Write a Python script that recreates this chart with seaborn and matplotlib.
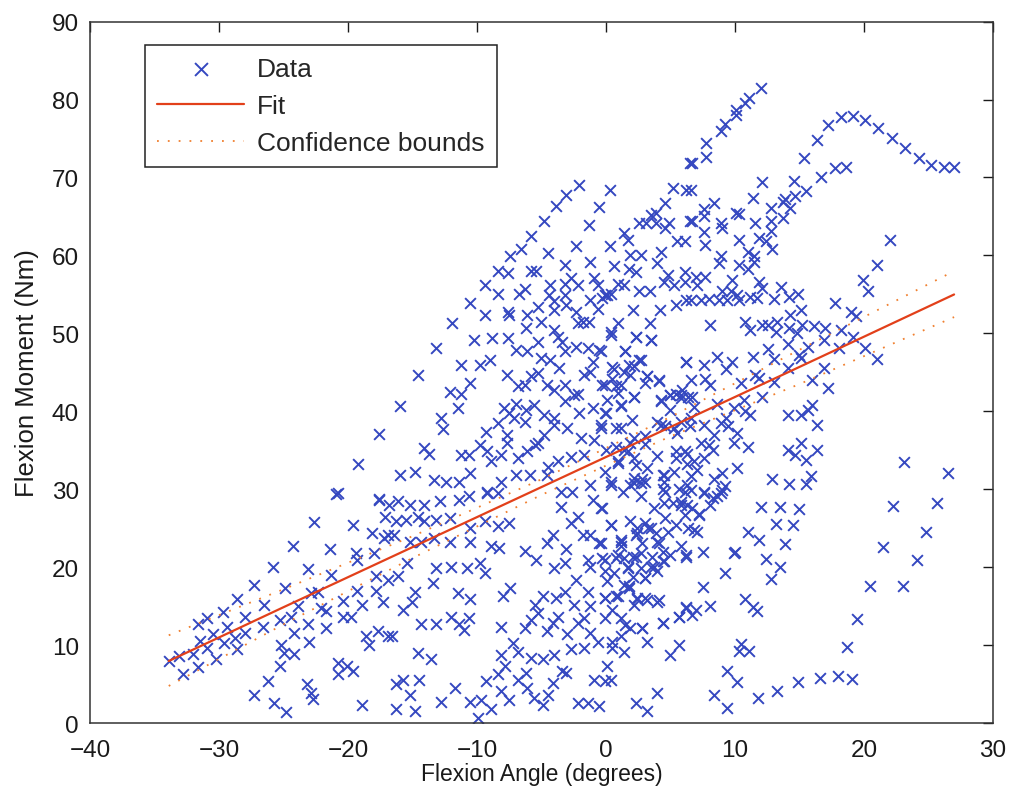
import matplotlib.pyplot as plt
import pandas as pd
import seaborn as sns

# measured points (flexion angle in degrees, flexion moment in Nm)
angle = [
    # upper middle cloud
    -8.4, -7.6, -5.8, -5.4, -3.2, -1.2, 0.6, 1.8, 2.3, 4.0, 4.8, 6.1,
    -9.4, -8.4, -6.7, -6.3, -4.3, -3.2, -2.7, -2.2, -0.9, -0.6, -0.1, 0.4, 1.4, 2.6, 3.4, 4.5, 5.3, 6.1, 0.9,
    -10.5, -9.4, -7.6, -7.5, -6.1, -5.3, -4.4, -4.0, -4.0, -3.2, -3.1, -2.3, -1.2, -0.6, -0.3, 0.1, 2.1, 4.2, 5.4, 6.2,
    -11.9, -10.2, -8.8, -7.6, -6.2, -5.0, -4.0, -3.7, -3.4, -2.2, -1.8, -1.3, 0.4, 0.9, 2.3, 3.4, 3.5,
    -13.2, -11.2, -9.8, -9.0, -7.0, -6.1, -5.3, -5.0, -4.3, -3.6, -3.2, -2.3, -1.4, -1.0, -0.5, 0.5, 1.5, 1.8, 2.6, 6.2,
    -14.6, -12.1, -11.2, -10.5, -7.7, -6.8, -6.3, -5.8, -5.3, -4.6, -4.0, -3.2, -2.2, -1.7, -1.2, -0.3, 0.5, 1.2, 1.9, 3.2, 4.1, 5.4,
    -16.0, -11.5, -12.8, -7.9, -7.5, -7.0, -6.2, -5.6, -4.8, -4.0, -3.2, -2.5, -2.1, -1.0, -0.1, 1.2, 2.2, 4.3, 5.0, 5.8,
    -12.6, -9.3, -8.4, -7.7, -7.1, -6.3, -5.5, -4.8, -4.0, -3.0, -1.9, -0.9, -0.4, 1.2, 1.9, 3.0, 4.3, 5.3,
    -14.1, -13.7, -11.2, -10.6, -9.8, -9.2, -8.9, -8.1, -7.7, -6.8, -6.1, -5.3, -4.5, -3.7, -2.7, -1.7, -0.1, 0.9, 1.7, 2.3, 3.2, 4.5, 5.4, 6.1,
    -16.0, -14.8, -13.3, -12.4, -11.4, -10.5, -9.2, -8.1, -7.0, -5.9, -4.6, -3.5, -2.6, -1.2, 0.4, 1.3, 1.9, 3.0, 4.5, 6.1,
    # top middle
    -2.1, -3.1, -3.9, 0.3, -0.5, -4.8, -1.3, -5.8, -6.6, -7.4, -4.5, -2.3, 0.3, 1.4, 1.7, 2.6, 3.1, 3.5, 3.9,
    3.9, 4.6, 4.6, 4.9, 5.2, 5.5, 6.1, 6.2, 6.5, 6.5, 1.9, 2.7, 4.3,
    # top right
    12.0, 11.1, 10.8, 10.1, 10.1, 9.2, 8.9, 7.8, 7.8, 6.7, 6.6, 12.1, 11.4, 8.4, 7.6, 7.6, 6.7, 10.1, 10.3,
    12.8, 13.7, 13.9, 14.6, 14.7, 15.5, 14.3, 13.7, 12.8, 11.6, 8.9, 9.0, 7.6, 12.8, 11.9, 12.4, 10.3, 7.7,
    12.9, 11.0, 11.5, 8.9, 15.4, 16.4, 17.2, 18.2, 19.2, 20.1, 21.1, 22.2, 23.2, 24.3, 25.2, 26.2, 27.0,
    16.7, 17.8, 18.6, 22.0,
    # right middle
    8.8, 10.3, 11.0, 11.5, 21.0, 7.0, 7.7, 7.1, 9.8, 11.9, 12.1, 13.6, 19.9, 20.3, 9.0, 9.7, 10.2, 14.9,
    6.6, 7.4, 8.0, 8.8, 9.4, 10.3, 11.2, 11.7, 13.0, 14.2, 17.8, 15.1, 14.3, 19.0, 19.4,
    8.1, 10.8, 11.2, 12.1, 12.6, 13.3, 13.2, 14.2, 14.8, 15.2, 16.1, 17.0, 18.2, 16.9, 19.2,
    14.1, 12.6, 15.7, 20.1, 18.1, 8.6, 11.4, 13.0, 15.0, 15.1, 7.6, 9.3, 9.8, 14.1, 16.9, 21.0,
    6.6, 7.7, 8.1, 11.6, 11.9, 10.5, 13.0, 16.0, 17.2, 6.7, 8.6, 10.7, 12.1,
    6.8, 9.9, 10.8, 11.2, 14.1, 15.1, 15.7, 16.0, 6.6, 7.6, 8.9, 9.3, 9.5, 10.2, 16.4, 8.4,
    7.4, 8.0, 8.3, 9.9, 11.0, 14.1, 15.1, 14.7, 16.4, 15.5, 23.1, 26.5,
    6.8, 7.6, 7.1, 6.6, 10.2, 8.4, 9.0, 12.9, 15.9, 14.2, 15.5, 7.6, 9.0, 8.3,
    # lower right
    7.6, 8.1, 8.9, 6.7, 7.2, 12.0, 13.5, 15.0, 22.3, 25.7, 6.8, 7.1, 11.0, 13.2, 14.5,
    11.9, 13.9, 24.8, 21.5, 7.5, 10.0, 12.4, 13.5, 24.1, 9.2, 12.8, 7.5, 20.5, 23.0,
    10.8, 11.4, 11.7, 6.7, 7.0, 8.1, 19.5, 10.5, 10.3, 11.1, 18.7, 9.4, 10.2, 8.4, 9.4,
    11.8, 13.3, 14.9, 16.6, 18.0, 19.1,
    # lower left
    -33.9, -33.1, -32.8, -32.0, -31.6, -31.5, -31.6, -30.9, -30.9, -30.5, -30.2, -29.7, -29.4, -29.6,
    -28.8, -28.6, -28.6, -28.0, -28.0, -27.3, -26.6, -26.5, -26.2, -27.3, -25.8, -25.3, -25.2, -25.0,
    -25.3, -24.9, -24.4, -24.3, -24.2, -24.2, -25.7, -24.8, -23.9, -23.1, -23.1, -23.0, -22.9, -23.2,
    -22.9, -22.7, -22.6, -22.3, -22.1, -21.7, -21.7, -21.4, -21.3, -20.8, -20.8, -20.8, -20.4, -20.4,
    -19.8, -20.1, -19.6, -19.6, -19.4, -19.3, -19.3, -18.9, -18.9, -18.6, -18.4, -18.1, -18.0, -17.8,
    -17.8, -17.7, -17.6, -17.3, -17.2, -17.1, -16.9, -16.9, -16.9, -16.8,
    -17.6, -19.2, -20.9, -17.6,
    # lower middle
    -16.1, -15.2, -14.1, -12.9, -11.4, -10.6, -9.2, -8.4,
    -16.3, -15.5, -14.6, -14.1, -13.2, -12.1, -10.5, -9.4, -8.4, -7.5,
    -16.4, -15.2, -14.3, -13.3, -12.1, -10.5, -8.9, -8.3, -6.3, -5.4, -4.6, -4.1, -3.5, -3.1, -2.7,
    -2.2, -1.8, -1.2, -1.0, -0.4, -0.5, 0.4, 1.2, 1.9, 2.4, 3.3, 4.0, 4.5, 5.8, 6.2,
    -15.4, -16.1, -13.2, -12.0, -10.8, -9.8, -9.4, -4.0, -3.2, -2.3, -1.4, -1.2, -0.1, 0.9, 1.7,
    2.3, 3.0, 3.7, 4.4,
    -14.8, -13.4, -11.5, -10.5, -7.4, -8.0, -15.7, -15.0, -4.9, -5.5, -3.9, -3.2, -2.5, -1.4, -1.2,
    -0.1, 0.8, 1.8, 2.4, 3.0, 4.0, 6.2,
    -16.6, -14.3, -13.2, -12.0, -11.4, -11.0, -10.6, -8.1, -6.3, -5.8, -5.3, -4.6, -4.1, -3.7, -3.0,
    -2.2, -1.7, -1.2, -0.1, 0.5, 1.2, 1.9, 2.8, 3.2, 4.4, 5.7,
    -14.6, -13.6, -8.1, -7.2, -6.8, -5.8, -4.9, -4.0, -2.7, -1.7, -0.6, 0.1, 0.5, 1.4, 5.0, 5.7,
    -16.3, -15.7, -14.5, -15.2, -16.3, -14.8, -12.8, -11.7, -10.5, -9.7, -9.3, -8.9, -8.4, -7.8,
    -8.1, -7.5, -6.8, -6.2, -6.1, -5.6, -4.9, -4.5, -4.1, -3.4, -3.1, -2.2, -1.4, -0.9, -0.1, 0.4,
    -0.5, 2.3, 3.2, 4.0, -9.9,
    # dense diagonal cluster right of centre
    0.4, 2.2, 2.7, 2.7, 4.4, 4.6, 5.7, 6.3, 6.6, 9.2, 8.6, 7.2, 9.9,
    3.7, 5.2, 5.8, 6.3, 6.1, -0.3, 0.4, 3.0, 3.5, 3.9, 2.4, 2.3, 4.6, 4.8, 5.4, 6.4,
    4.1, 2.8, 1.2, 1.2, -0.4, 4.4, 5.0, 5.8, 2.1, 2.7, 3.6, 1.4, 0.8, -0.3, 6.2,
    1.7, 2.7, 3.5, 4.0, 4.5, -0.1, 0.6, 2.1, 3.0, 0.1, 1.4, 1.8, 0.9, 2.4, 3.2, 4.1,
    -0.1, 2.2, 6.2, 0.5, 1.2, 1.5, 2.8, 4.4, 5.7,
    # band around the fit line right of centre
    0.4, 2.3, 3.5, 1.5, -0.4, 2.7, 2.2, 1.4, 0.6, 3.2, 3.0, 4.1, 6.2, -0.1, 0.8, 0.9,
    2.2, 4.3, 5.0, 5.9, 5.8, 6.4, 5.0, 0.0, 1.2, 2.0, 0.1, -0.4, 0.8, 4.0, 4.6, 5.8,
    6.5, 5.5, 2.2, 3.0, 1.4, 0.8, 0.0, 2.2, 4.0, 5.4, 6.3, 0.9, 4.4, 5.3, 6.3, 2.2, 2.8,
]
moment = [
    58.0, 57.7, 58.0, 58.0, 58.8, 59.2, 58.6, 58.3, 57.9, 59.0, 57.5, 57.9,
    56.2, 55.1, 55.1, 55.7, 56.2, 56.4, 57.1, 56.2, 57.1, 56.2, 54.9, 55.1, 56.2, 55.4, 55.4, 56.6, 56.2, 56.6, 56.4,
    53.9, 52.4, 52.8, 52.4, 52.4, 53.4, 54.9, 54.1, 53.0, 54.9, 53.6, 52.8, 54.3, 53.2, 54.5, 54.9, 53.0, 53.0, 53.6, 54.3,
    51.3, 49.2, 49.4, 49.4, 50.7, 51.5, 50.4, 49.6, 48.9, 51.3, 51.5, 51.5, 50.2, 51.3, 49.6, 51.3, 49.2,
    48.1, 46.0, 46.0, 46.6, 47.9, 47.8, 48.9, 46.8, 46.6, 45.6, 47.8, 48.3, 48.1, 46.4, 47.9, 45.7, 47.7, 46.0, 46.6, 46.4,
    44.7, 42.5, 42.3, 43.6, 44.7, 43.2, 43.4, 44.5, 44.9, 43.4, 42.8, 43.4, 42.3, 44.7, 45.1, 43.4, 44.2, 43.4, 44.7, 44.5, 44.0, 42.3,
    40.7, 40.5, 39.1, 40.4, 39.8, 41.0, 40.2, 40.8, 39.5, 39.1, 41.3, 42.1, 39.8, 40.4, 39.8, 40.8, 41.9, 41.5, 42.1, 42.1,
    37.8, 37.4, 38.5, 37.0, 39.1, 38.7, 35.7, 37.0, 38.3, 37.9, 36.6, 36.3, 38.3, 37.9, 35.9, 36.8, 38.3, 37.9,
    35.3, 34.6, 34.4, 34.4, 35.7, 34.9, 33.6, 34.4, 35.9, 34.0, 34.9, 35.9, 32.9, 33.6, 34.2, 34.4, 32.3, 33.6, 34.9, 33.1, 32.7, 31.9, 34.0, 34.9,
    31.9, 32.3, 31.2, 31.0, 31.0, 32.1, 29.7, 31.0, 31.9, 31.9, 31.9, 29.7, 29.7, 30.6, 31.0, 29.7, 30.6, 31.0, 31.0, 29.7,
    69.1, 67.8, 66.3, 68.4, 66.2, 64.4, 63.9, 62.5, 60.8, 59.9, 60.3, 61.2, 61.2, 62.9, 62.0, 64.2, 64.2, 65.2, 65.4,
    64.2, 66.7, 63.5, 64.2, 68.6, 61.8, 61.8, 68.4, 71.8, 64.4, 60.1, 60.1, 60.5,
    81.5, 80.2, 79.5, 78.7, 78.0, 76.8, 75.9, 74.4, 72.6, 71.9, 68.4, 69.4, 67.4, 66.7, 65.9, 65.0, 64.4, 65.4, 65.3,
    66.1, 66.9, 67.2, 69.6, 67.6, 68.3, 66.1, 64.8, 64.4, 64.2, 64.2, 63.5, 63.0, 63.2, 62.3, 61.8, 62.0, 61.4,
    60.8, 60.5, 59.9, 59.9, 72.5, 74.8, 76.7, 77.7, 77.9, 77.4, 76.4, 75.1, 73.8, 72.5, 71.6, 71.3, 71.3,
    70.1, 71.2, 71.4, 62.0,
    59.0, 58.8, 58.3, 59.2, 58.8, 57.3, 57.3, 56.2, 56.9, 56.6, 55.8, 56.0, 56.9, 55.4, 55.4, 55.4, 54.9, 55.1,
    54.3, 54.3, 54.4, 54.3, 54.3, 54.3, 54.7, 54.5, 54.4, 54.7, 53.9, 53.0, 52.4, 52.8, 52.2,
    51.1, 51.5, 50.4, 51.1, 51.1, 51.5, 50.2, 50.7, 50.0, 51.1, 50.9, 50.7, 50.4, 49.2, 49.6,
    48.7, 48.0, 48.3, 48.2, 48.1, 47.0, 47.0, 46.7, 47.2, 46.9, 46.0, 45.5, 46.4, 45.6, 45.6, 46.7,
    44.0, 44.2, 43.4, 44.7, 44.3, 43.6, 43.8, 44.0, 43.0, 41.9, 41.0, 41.5, 41.9,
    40.6, 40.4, 40.0, 39.6, 39.6, 39.6, 40.2, 40.8, 39.1, 38.3, 38.5, 39.1, 38.1, 37.2, 38.3, 37.0,
    35.9, 35.7, 35.1, 35.9, 35.5, 35.1, 35.9, 34.4, 35.1, 33.8, 33.5, 32.1,
    33.6, 34.0, 32.5, 31.7, 32.8, 31.4, 32.1, 31.4, 31.7, 30.7, 30.7, 29.7, 29.9, 28.9,
    29.5, 28.0, 29.5, 27.6, 26.8, 27.8, 27.8, 27.5, 27.9, 28.2, 24.8, 24.6, 24.6, 25.6, 25.4,
    23.5, 23.0, 24.5, 22.6, 22.0, 22.0, 21.1, 20.0, 21.0, 19.3, 18.5, 17.5, 17.6, 17.6,
    15.9, 14.9, 14.4, 13.9, 14.5, 15.1, 13.4, 10.2, 9.3, 9.3, 9.8, 6.7, 5.3, 3.6, 2.0,
    3.3, 4.2, 5.3, 5.8, 6.1, 5.7,
    8.0, 8.6, 6.3, 8.9, 7.2, 10.6, 12.7, 13.5, 9.7, 11.4, 8.2, 14.3, 12.4, 10.3,
    10.9, 15.9, 9.5, 11.6, 13.7, 17.7, 12.4, 15.2, 5.5, 3.7, 20.0, 13.3, 10.1, 9.0,
    7.4, 17.4, 13.7, 22.7, 11.6, 8.9, 2.6, 1.4, 15.0, 19.8, 12.7, 10.5, 16.7, 5.1,
    3.9, 3.1, 25.8, 16.9, 14.8, 14.4, 12.2, 22.4, 19.0, 29.5, 7.7, 6.3, 15.7, 13.6,
    13.6, 7.3, 6.7, 25.5, 21.8, 21.0, 17.0, 15.2, 2.4, 11.2, 10.1, 24.4, 21.8, 18.9,
    17.0, 11.8, 28.7, 15.6, 23.8, 26.5, 24.1, 18.4, 11.2, 28.0,
    37.1, 33.2, 29.4, 28.8,
    28.5, 28.0, 28.0, 28.5, 28.7, 29.1, 29.5, 29.5,
    25.9, 26.1, 26.5, 25.9, 26.1, 26.3, 25.0, 25.9, 25.3, 25.7,
    24.2, 23.3, 23.3, 23.8, 23.3, 23.3, 22.7, 22.5, 22.1, 21.0, 23.1, 24.2, 27.8, 22.3, 25.7,
    26.5, 24.2, 24.2, 28.7, 27.6, 23.1, 25.5, 23.3, 25.9, 24.4, 25.0, 23.3, 28.2, 28.0, 21.6,
    20.6, 18.9, 19.9, 20.1, 19.9, 20.6, 19.3, 19.9, 20.6, 18.4, 21.0, 20.1, 21.0, 21.6, 20.1,
    21.4, 18.6, 20.1, 20.8,
    16.9, 18.0, 16.7, 15.9, 17.4, 16.3, 14.6, 15.6, 16.3, 15.2, 16.1, 16.9, 15.2, 16.9, 15.0,
    16.1, 16.3, 17.6, 15.9, 16.1, 15.6, 14.8,
    11.2, 12.7, 12.7, 13.7, 12.7, 12.0, 13.5, 12.4, 12.2, 13.3, 14.2, 11.8, 12.9, 13.7, 11.4,
    12.9, 13.5, 11.6, 13.5, 10.5, 11.2, 12.2, 12.2, 10.5, 12.9, 13.7,
    9.0, 8.2, 8.8, 10.3, 9.2, 8.4, 8.2, 8.8, 9.5, 9.7, 10.5, 7.3, 9.7, 9.2, 8.8, 10.1,
    5.0, 5.6, 5.6, 3.7, 1.8, 1.6, 2.8, 4.5, 2.8, 3.0, 5.4, 1.8, 6.3, 7.3,
    4.1, 3.0, 5.6, 6.5, 4.5, 3.3, 2.4, 3.7, 5.2, 6.7, 6.5, 2.6, 2.6, 5.6, 5.4, 5.6,
    2.2, 2.6, 1.6, 3.9, 0.7,
    30.6, 30.8, 30.8, 29.2, 30.1, 29.7, 30.1, 30.6, 29.9, 30.4, 29.1, 26.7, 21.9,
    27.6, 28.2, 28.4, 28.0, 26.7, 27.6, 25.5, 25.7, 25.0, 24.4, 25.0, 24.2, 26.3, 24.6, 25.5, 25.0,
    23.1, 23.1, 23.5, 22.7, 23.1, 22.0, 21.6, 22.7, 21.4, 21.8, 21.4, 21.2, 21.2, 21.2, 21.4,
    19.9, 19.9, 20.1, 19.5, 20.8, 19.5, 19.3, 18.8, 18.6, 18.2, 17.8, 17.3, 16.3, 16.1, 15.8, 15.8,
    16.1, 15.2, 14.9, 14.6, 13.5, 12.6, 12.2, 12.9, 13.6,
    49.8, 49.5, 49.2, 47.7, 47.7, 46.6, 45.8, 45.1, 45.4, 44.5, 43.6, 43.9, 46.3, 43.4, 43.2, 42.4,
    41.9, 41.3, 42.1, 42.8, 41.7, 41.9, 40.2, 39.8, 40.7, 38.9, 41.5, 37.9, 37.9, 38.7, 38.1, 38.7,
    38.1, 37.2, 36.6, 35.8, 35.1, 35.5, 35.1, 34.0, 34.3, 34.9, 34.5, 33.4, 31.9, 32.3, 33.2, 31.5, 31.3,
]

# fitted line and its confidence bounds
fit_angle = [-33.9, -25.0, -15.0, -5.0, 5.0, 15.0, 27.0]
fit_moment = [8.0, 14.9, 22.6, 30.3, 38.0, 45.7, 55.0]
upper_bound = [11.3, 17.2, 24.0, 31.3, 39.3, 47.9, 58.0]
lower_bound = [4.8, 12.7, 21.2, 29.3, 36.8, 43.5, 52.1]

data = pd.DataFrame({'angle': angle[:len(moment)], 'moment': moment[:len(angle)]})
fit = pd.DataFrame({'angle': fit_angle, 'fit': fit_moment,
                    'upper': upper_bound, 'lower': lower_bound})

sns.set_style('white')
plt.rcParams['font.family'] = ['Liberation Sans', 'DejaVu Sans']

fig = plt.figure(figsize=(10.12, 8.04), dpi=100)
ax = fig.add_axes([0.089, 0.099, 0.892, 0.873])

sns.scatterplot(data=data, x='angle', y='moment', marker='x', color='#3548c0',
                s=60, linewidth=1.4, ax=ax, label='Data', zorder=2)
sns.lineplot(data=fit, x='angle', y='fit', color='#e2401a', linewidth=1.6,
             ax=ax, label='Fit', zorder=3)
sns.lineplot(data=fit, x='angle', y='upper', color='#f08030', linewidth=1.3,
             linestyle=(0, (1, 5)), ax=ax, label='Confidence bounds', zorder=3)
sns.lineplot(data=fit, x='angle', y='lower', color='#f08030', linewidth=1.3,
             linestyle=(0, (1, 5)), ax=ax, zorder=3)

ax.set_xlim(-40, 30)
ax.set_ylim(0, 90)
ax.set_xticks(range(-40, 31, 10))
ax.set_yticks(range(0, 91, 10))
ax.tick_params(direction='in', length=7, width=1, labelsize=17.5,
               top=True, right=True, colors='#1a1a1a')
ax.tick_params(axis='x', pad=11)
ax.tick_params(axis='y', pad=8)
for side in ax.spines.values():
    side.set_color('#333333')
    side.set_linewidth(1.1)
ax.set_xlabel('Flexion Angle (degrees)', fontsize=16.5, color='#1a1a1a',
              labelpad=1)
ax.set_ylabel('Flexion Moment (Nm)', fontsize=18.5, color='#1a1a1a', labelpad=9)

leg = ax.legend(loc='upper left', bbox_to_anchor=(0.061, 0.967), borderaxespad=0,
                fontsize=19, frameon=True, fancybox=False, framealpha=1,
                edgecolor='#222222', handlelength=3.3, handletextpad=0.5,
                borderpad=0.45, labelspacing=0.5, markerscale=1.2)
leg.get_frame().set_linewidth(1.1)

fig.savefig('out.png', dpi=100)
